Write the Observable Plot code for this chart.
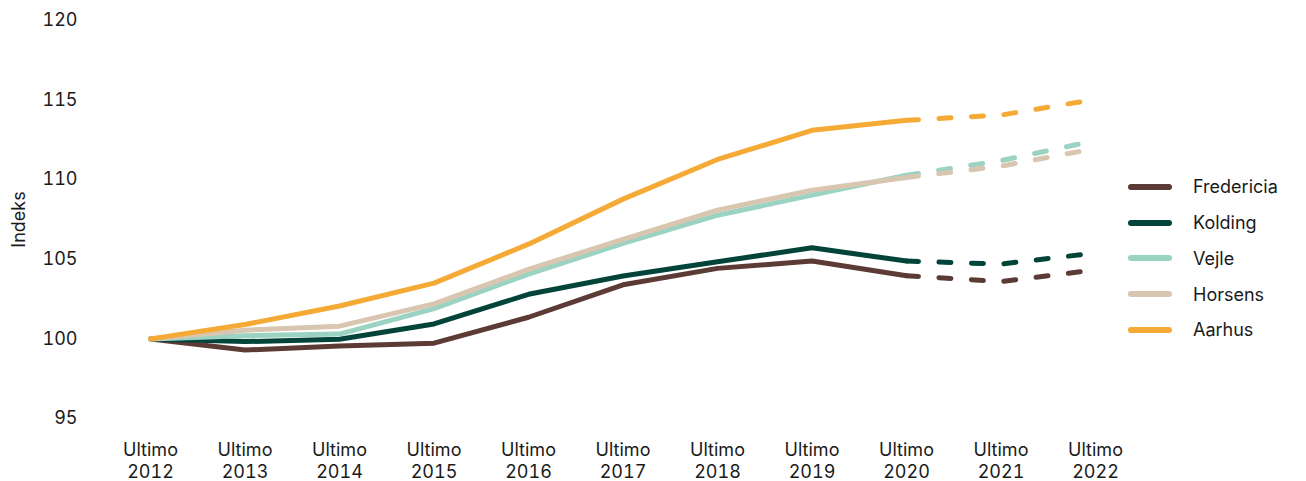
<!DOCTYPE html>
<html><head><meta charset="utf-8">
<script src="https://cdn.jsdelivr.net/npm/d3@7"></script>
<script src="https://cdn.jsdelivr.net/npm/@observablehq/plot@0.6"></script>
<style>
body{margin:0;background:#fff;font-family:Inter, "Noto Sans", sans-serif;}
#wrap{position:relative;width:1306px;height:481px;}
#legend{position:absolute;left:1128px;top:169px;}
.row{display:flex;align-items:center;height:35.75px;font-size:18px;color:#1a1a1a;}
.sw{width:44px;height:6px;border-radius:3px;margin-right:21px;}
</style></head><body>
<div id="wrap"><div id="chart"></div><div id="legend"></div></div>
<script>
const years = [2012, 2013, 2014, 2015, 2016, 2017, 2018, 2019, 2020, 2021, 2022];
const cities = ["Fredericia", "Kolding", "Vejle", "Horsens", "Aarhus"];
const colors = ["#5c3b37", "#02443a", "#9bd3c3", "#d9c6b0", "#f5aa35"];
const fredericia = [100, 99.3, 99.55, 99.73, 101.36, 103.4, 104.43, 104.89, 103.97, 103.6, 104.33];
const kolding = [100, 99.83, 99.98, 100.94, 102.8, 103.95, 104.85, 105.72, 104.89, 104.7, 105.4];
const vejle = [100, 100.2, 100.3, 101.9, 104.07, 106.0, 107.77, 109.03, 110.28, 111.2, 112.46];
const horsens = [100, 100.55, 100.8, 102.2, 104.37, 106.25, 108.09, 109.34, 110.14, 110.85, 111.96];
const aarhus = [100, 100.9, 102.07, 103.5, 105.95, 108.78, 111.27, 113.1, 113.73, 114.06, 115.05];
const yTicks = [95, 100, 105, 110, 115, 120];
const lastActual = 2020;

const series = [fredericia, kolding, vejle, horsens, aarhus];
const rows = [];
cities.forEach((c, i) => series[i].forEach((v, j) => rows.push({city: c, year: years[j], value: v})));
const solid = rows.filter(d => d.year <= lastActual);
const dashed = rows.filter(d => d.year >= lastActual);

const chart = Plot.plot({
  width: 1306, height: 481,
  marginLeft: 80, marginRight: 211, marginTop: 20, marginBottom: 63,
  style: {fontFamily: "Inter, 'Noto Sans', sans-serif", fontSize: "18px", color: "#1a1a1a", background: "white", overflow: "visible"},
  x: {domain: [2012, 2022], range: [150, 1095]},
  y: {domain: [95, 120]},
  color: {domain: cities, range: colors},
  marks: [
    Plot.axisX({ticks: years, tickFormat: d => `Ultimo\n${d}`, tickSize: 0, tickPadding: 23, label: null, lineHeight: 1.17}),
    Plot.axisY({ticks: yTicks, tickSize: 0, tickPadding: 3, label: "Indeks", labelAnchor: "center", labelArrow: false, labelOffset: 68}),
    Plot.line(solid, {x: "year", y: "value", z: "city", stroke: "city", strokeWidth: 5, strokeLinecap: "round", strokeLinejoin: "round"}),
    Plot.line(dashed, {x: "year", y: "value", z: "city", stroke: "city", strokeWidth: 5, strokeLinecap: "round", strokeLinejoin: "round", strokeDasharray: "12,20.5"})
  ]
});
document.getElementById("chart").appendChild(chart);

const legend = document.getElementById("legend");
cities.forEach((c, i) => {
  const r = document.createElement("div"); r.className = "row";
  const s = document.createElement("div"); s.className = "sw"; s.style.background = colors[i];
  const t = document.createElement("span"); t.textContent = c;
  r.appendChild(s); r.appendChild(t); legend.appendChild(r);
});
</script>
</body></html>
